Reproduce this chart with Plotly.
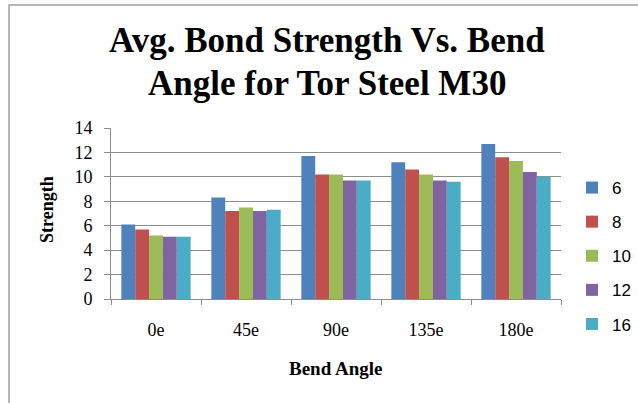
import plotly.graph_objects as go

categories = ["0e", "45e", "90e", "135e", "180e"]
series_names = ["6", "8", "10", "12", "16"]
s6 = [6.1, 8.3, 11.7, 11.2, 12.7]
s8 = [5.7, 7.2, 10.2, 10.6, 11.6]
s10 = [5.2, 7.5, 10.2, 10.2, 11.3]
s12 = [5.1, 7.2, 9.7, 9.7, 10.4]
s16 = [5.1, 7.3, 9.7, 9.6, 10.0]
colors = ["#4F81BD", "#C0504D", "#9BBB59", "#8064A2", "#4BACC6"]
title_lines = ["Avg. Bond Strength Vs. Bend", "Angle for Tor Steel M30"]

fig = go.Figure()
for name, vals, col in zip(series_names, [s6, s8, s10, s12, s16], colors):
    fig.add_trace(go.Bar(x=categories, y=vals, name=name, marker_color=col,
                         marker_line_width=0, legendgroup=name))

annotations = []
for txt, yy in zip(title_lines, [1.509, 1.262]):
    annotations.append(dict(text="<b>" + txt + "</b>", xref="paper", yref="paper",
                            x=0.48, y=yy, xanchor="center", yanchor="middle",
                            showarrow=False,
                            font=dict(family="Liberation Serif", size=35, color="black")))
annotations.append(dict(text="<b>Strength</b>", xref="paper", yref="paper",
                        x=(47 - 111) / 450, y=(299 - 210) / 171, textangle=-90,
                        xanchor="center", yanchor="middle", showarrow=False,
                        font=dict(family="Liberation Serif", size=18, color="black")))
annotations.append(dict(text="<b>Bend Angle</b>", xref="paper", yref="paper",
                        x=(335 - 111) / 450, y=(299 - 368) / 171,
                        xanchor="center", yanchor="middle", showarrow=False,
                        font=dict(family="Liberation Serif", size=19, color="black")))

fig.update_layout(
    width=638, height=403,
    paper_bgcolor="white", plot_bgcolor="white",
    margin=dict(l=111, r=77, t=128, b=104, autoexpand=False),
    barmode="group", bargap=0.23, bargroupgap=0,
    showlegend=True,
    legend=dict(xref="container", yref="container", x=572 / 638, xanchor="left",
                y=1 - 170 / 403, yanchor="top",
                font=dict(family="Liberation Sans", size=17, color="black"),
                tracegroupgap=9, itemwidth=30, bgcolor="rgba(0,0,0,0)"),
    annotations=annotations,
    shapes=[dict(type="rect", xref="paper", yref="paper",
                 x0=(9 - 111) / 450, x1=(660 - 111) / 450,
                 y0=(299 - 420) / 171, y1=(299 - 5) / 171,
                 line=dict(color="#A0A0A0", width=1.5))],
)
fig.update_xaxes(
    automargin=False,
    showline=True, linecolor="#8C8C8C", linewidth=1,
    ticks="outside", tickson="boundaries", ticklen=5, tickcolor="#8C8C8C",
    ticklabelstandoff=14,
    tickfont=dict(family="Liberation Serif", size=18, color="black"),
)
fig.update_yaxes(
    automargin=False,
    range=[0, 14], dtick=2, showgrid=True, gridcolor="#8C8C8C", gridwidth=1,
    showline=True, linecolor="#8C8C8C", linewidth=1,
    ticks="outside", ticklen=6, tickcolor="#8C8C8C",
    ticklabelstandoff=8,
    tickfont=dict(family="Liberation Serif", size=18, color="black"),
    zeroline=False,
)
fig.write_html("out.html", config={"displayModeBar": False},
               post_script="document.body.style.margin='0';document.body.style.overflow='hidden';")
